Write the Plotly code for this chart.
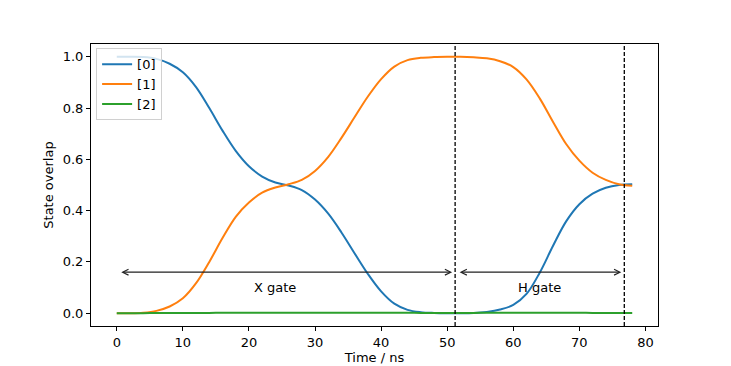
import plotly.graph_objects as go

# values (state overlap vs time)
t_ns = [0, 2, 4, 6, 8, 10, 12, 14, 16, 18, 20, 22, 24, 26, 28, 30, 32, 34, 36, 38,
        40, 42, 44, 46, 48, 50, 52, 54, 56, 58, 60, 62, 64, 66, 68, 70, 72, 74, 76, 78]
state0 = [1.0, 1.0, 0.999, 0.992, 0.973, 0.94, 0.882, 0.80, 0.712, 0.633, 0.573, 0.533,
          0.51, 0.498, 0.48, 0.443, 0.388, 0.315, 0.233, 0.153, 0.085, 0.037, 0.013, 0.004,
          0.001, 0.0, 0.0, 0.001, 0.005, 0.014, 0.032, 0.075, 0.158, 0.262, 0.358, 0.425,
          0.466, 0.489, 0.5, 0.503]
state1 = [0.0, 0.0, 0.002, 0.009, 0.026, 0.058, 0.117, 0.2, 0.293, 0.376, 0.432, 0.47,
          0.49, 0.503, 0.52, 0.555, 0.61, 0.684, 0.765, 0.845, 0.913, 0.962, 0.987, 0.996,
          0.999, 1.0, 1.0, 0.998, 0.994, 0.983, 0.96, 0.912, 0.838, 0.747, 0.66, 0.595,
          0.548, 0.52, 0.503, 0.497]
state2 = [0.0, 0.0, 0.0, 0.0005, 0.001, 0.001, 0.001, 0.001, 0.0015, 0.0015, 0.0015,
          0.0015, 0.0015, 0.0015, 0.0015, 0.0015, 0.0015, 0.002, 0.002, 0.002, 0.002,
          0.0015, 0.0015, 0.001, 0.001, 0.001, 0.001, 0.001, 0.0015, 0.0015, 0.002,
          0.002, 0.002, 0.002, 0.0015, 0.0015, 0.001, 0.001, 0.001, 0.001]

gate_edges = [0, 51.2, 76.8]
gate_names = ['X gate', 'H gate']
gate_label_x = [24.0, 64.0]

colors = ['#1f77b4', '#ff7f0e', '#2ca02c']
FONT = 'DejaVu Sans'
FS = 13

fig = go.Figure()
for name, ys, c in zip(['[0]', '[1]', '[2]'], [state0, state1, state2], colors):
    fig.add_trace(go.Scatter(x=t_ns, y=ys, name=name, mode='lines',
                             line=dict(color=c, width=2, shape='spline', smoothing=1)))

for xe in gate_edges[1:]:
    fig.add_vline(x=xe, line_dash='4px,2px', line_color='black', line_width=1.3)

for i, name in enumerate(gate_names):
    fig.add_annotation(x=gate_edges[i + 1], y=0.16, ax=gate_edges[i], ay=0.16,
                       xref='x', yref='y', axref='x', ayref='y', text='',
                       showarrow=True, arrowhead=5, startarrowhead=5,
                       arrowside='end+start', arrowsize=0.9, startarrowsize=0.9,
                       arrowwidth=1.3, arrowcolor='#222', standoff=3, startstandoff=3)
    fig.add_annotation(x=gate_label_x[i], y=0.1, xref='x', yref='y', text=name,
                       showarrow=False, font=dict(size=FS, color='black', family=FONT))

axis_common = dict(showline=True, linecolor='black', linewidth=1, mirror=True,
                   ticks='outside', ticklen=4, tickcolor='black', showgrid=False,
                   zeroline=False, automargin=False,
                   tickfont=dict(size=FS, color='black', family=FONT))

# the page body adds an 8px margin, so the figure is 8px smaller than the window
fig.update_layout(
    width=723, height=358,
    margin=dict(l=83, r=73, t=36, b=40),
    plot_bgcolor='white', paper_bgcolor='white',
    font=dict(family=FONT, size=FS, color='black'),
    xaxis=dict(range=[-3.9, 81.9], tickvals=[0, 10, 20, 30, 40, 50, 60, 70, 80],
               title=dict(text='Time / ns', standoff=4, font=dict(size=FS, family=FONT)),
               **axis_common),
    yaxis=dict(range=[-0.05, 1.05], tickvals=[0, 0.2, 0.4, 0.6, 0.8, 1.0], tickformat='.1f',
               title=dict(text='State overlap', standoff=6, font=dict(size=FS, family=FONT)),
               **axis_common),
    legend=dict(x=0.009, y=0.985, xanchor='left', yanchor='top',
                bgcolor='rgba(255,255,255,0.8)', bordercolor='#d0d0d0', borderwidth=1,
                itemwidth=30, tracegroupgap=0, font=dict(size=FS, family=FONT)),
    showlegend=True,
)

fig.write_html("out.html")
